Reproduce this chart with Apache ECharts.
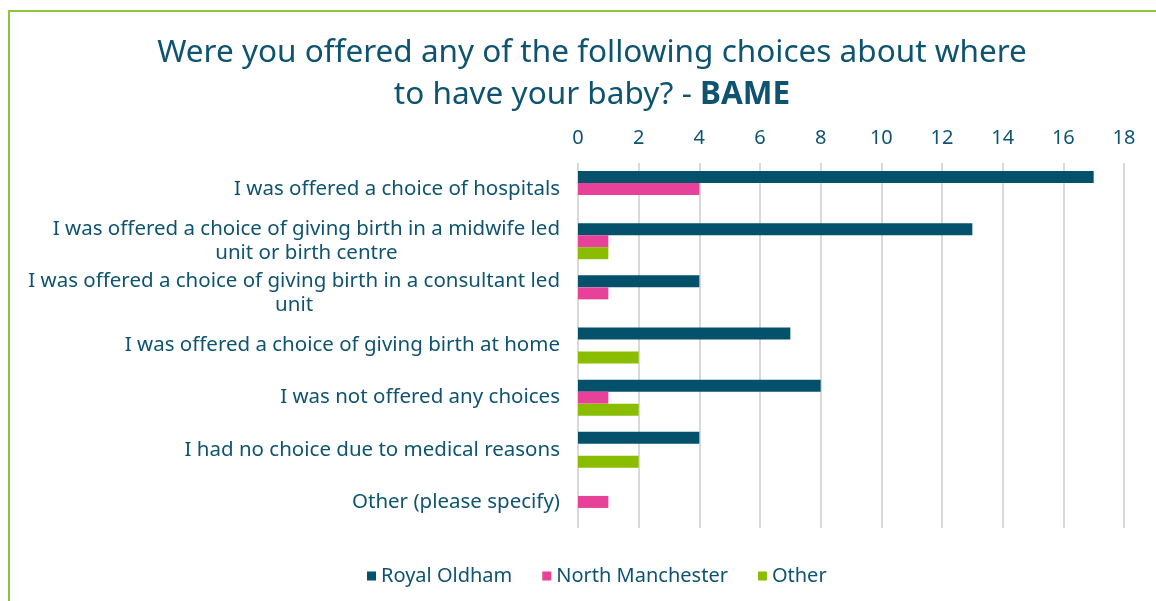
<!DOCTYPE html>
<html lang="en">
<head>
    <meta charset="UTF-8">
    <title>Choices about where to have your baby - BAME</title>
    <script src="https://cdn.jsdelivr.net/npm/echarts/dist/echarts.min.js"></script>
    <style>
        html, body { margin: 0; padding: 0; background: #fff; overflow: hidden; }
        #chart-container { width: 1156px; height: 601px; }
        #frame {
            position: absolute; left: 8px; top: 10px;
            width: 1200px; height: 700px;
            border: 2px solid #8cc43c; pointer-events: none;
        }
    </style>
</head>
<body>
    <div id="chart-container"></div>
    <div id="frame"></div>

    <script>
        var categories = [
            'I was offered a choice of hospitals',
            'I was offered a choice of giving birth in a midwife led\nunit or birth centre',
            'I was offered a choice of giving birth in a consultant led\nunit',
            'I was offered a choice of giving birth at home',
            'I was not offered any choices',
            'I had no choice due to medical reasons',
            'Other (please specify)'
        ];
        var royalOldham = [17, 13, 4, 7, 8, 4, 0];
        var northManchester = [4, 1, 1, 0, 1, 0, 1];
        var other = [0, 1, 0, 2, 2, 2, 0];
        var xTicks = [0, 18, 2]; // min, max, interval

        var textColor = '#0e5470';
        var font = 'Noto Sans';

        var myChart = echarts.init(document.getElementById('chart-container'));

        var option = {
            textStyle: { fontFamily: font },
            title: {
                text: 'Were you offered any of the following choices about where\nto have your baby? - {b|BAME}',
                left: 587,
                textAlign: 'center',
                top: 27,
                textStyle: {
                    fontFamily: font,
                    fontSize: 31.5,
                    fontWeight: 'normal',
                    color: textColor,
                    lineHeight: 42,
                    rich: {
                        b: { fontFamily: font, fontSize: 31.5, fontWeight: 'bold', color: textColor, lineHeight: 42 }
                    }
                }
            },
            legend: {
                bottom: 10,
                left: 362,
                icon: 'rect',
                itemWidth: 9,
                itemHeight: 9,
                itemGap: 30,
                textStyle: { fontFamily: font, fontSize: 20, color: textColor }
            },
            grid: { left: 578, right: 32, top: 163, bottom: 73 },
            xAxis: {
                type: 'value',
                position: 'top',
                min: xTicks[0],
                max: xTicks[1],
                interval: xTicks[2],
                axisLine: { show: false },
                axisTick: { show: false },
                axisLabel: { fontFamily: font, fontSize: 20, color: textColor, margin: 15 },
                splitLine: { lineStyle: { color: '#d9d9d9', width: 2 } }
            },
            yAxis: {
                type: 'category',
                inverse: true,
                data: categories,
                axisLine: { show: false },
                axisTick: { show: false },
                axisLabel: {
                    margin: 18,
                    fontFamily: font,
                    fontSize: 20.5,
                    color: textColor,
                    lineHeight: 24,
                    formatter: function (v) {
                        return v.split('\n').map(function (s) { return '{c|' + s + '}'; }).join('\n');
                    },
                    rich: {
                        c: { align: 'center', fontFamily: font, fontSize: 20.5, color: textColor, lineHeight: 24 }
                    }
                }
            },
            series: [
                {
                    name: 'Royal Oldham', type: 'bar', data: royalOldham,
                    barWidth: 12, barGap: '0%',
                    itemStyle: { color: '#04516c' }
                },
                {
                    name: 'North Manchester', type: 'bar', data: northManchester,
                    barWidth: 12, barGap: '0%',
                    itemStyle: { color: '#e8419a' }
                },
                {
                    name: 'Other', type: 'bar', data: other,
                    barWidth: 12, barGap: '0%',
                    itemStyle: { color: '#8abd00' }
                }
            ]
        };

        myChart.setOption(option);
    </script>
</body>
</html>
